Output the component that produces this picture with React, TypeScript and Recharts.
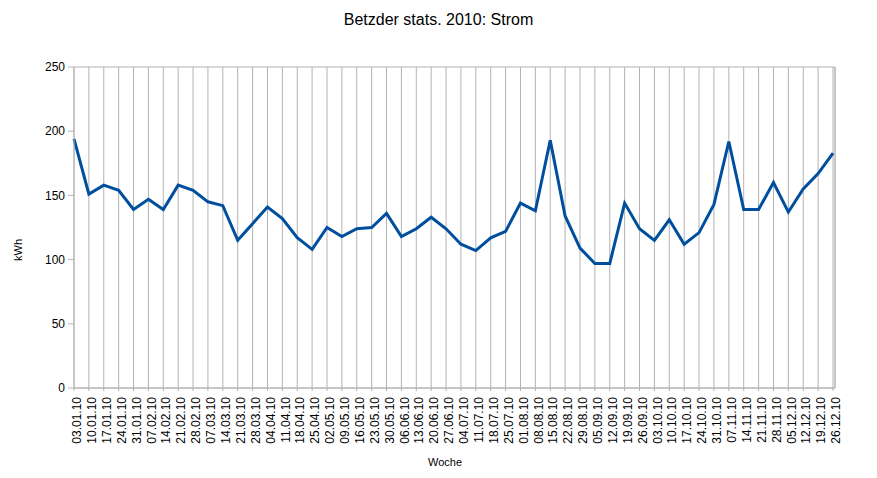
import React from 'react';
import { LineChart, Line, XAxis, YAxis, CartesianGrid } from 'recharts';

const weeks: string[] = [
  '03.01.10', '10.01.10', '17.01.10', '24.01.10', '31.01.10', '07.02.10', '14.02.10', '21.02.10', '28.02.10',
  '07.03.10', '14.03.10', '21.03.10', '28.03.10', '04.04.10', '11.04.10', '18.04.10', '25.04.10', '02.05.10',
  '09.05.10', '16.05.10', '23.05.10', '30.05.10', '06.06.10', '13.06.10', '20.06.10', '27.06.10', '04.07.10',
  '11.07.10', '18.07.10', '25.07.10', '01.08.10', '08.08.10', '15.08.10', '22.08.10', '29.08.10', '05.09.10',
  '12.09.10', '19.09.10', '26.09.10', '03.10.10', '10.10.10', '17.10.10', '24.10.10', '31.10.10', '07.11.10',
  '14.11.10', '21.11.10', '28.11.10', '05.12.10', '12.12.10', '19.12.10', '26.12.10',
];

const strom: number[] = [
  194, 151, 158, 154, 139, 147, 139, 158, 154,
  145, 142, 115, 128, 141, 132, 117, 108, 125,
  118, 124, 125, 136, 118, 124, 133, 124, 112,
  107, 117, 122, 144, 138, 193, 134, 109, 97,
  97, 144, 124, 115, 131, 112, 121, 143, 192,
  139, 139, 160, 137, 155, 167, 183,
];

const yTicks: number[] = [0, 50, 100, 150, 200, 250];

const data = weeks.map((w, i) => ({ week: w, kwh: strom[i] }));

const FONT = '"Liberation Sans", Arial, Helvetica, sans-serif';
const GRID = '#b3b3b3';

const XTick = (props: any) => {
  const { x, y, payload } = props;
  return (
    <g transform={`translate(${x},${y})`}>
      <text
        transform="rotate(-90)"
        x={-4}
        y={3}
        dy="0.35em"
        textAnchor="end"
        fontSize={12}
        fontFamily={FONT}
        fill="#000"
      >
        {payload.value}
      </text>
    </g>
  );
};

export default function App() {
  return (
    <div style={{ position: 'absolute', left: 0, top: 0, width: 877, height: 478, background: '#fff', fontFamily: FONT }}>
      <div
        style={{
          position: 'absolute',
          left: 0,
          width: 877,
          top: 10,
          textAlign: 'center',
          fontSize: 16,
          lineHeight: '20px',
          color: '#000',
        }}
      >
        Betzder stats. 2010: Strom
      </div>
      <div
        style={{
          position: 'absolute',
          left: 18,
          top: 250,
          transform: 'translate(-50%, -50%) rotate(-90deg)',
          fontSize: 11,
          lineHeight: '13px',
          color: '#000',
          whiteSpace: 'nowrap',
        }}
      >
        kWh
      </div>
      <div
        style={{
          position: 'absolute',
          left: 445,
          top: 462,
          transform: 'translate(-50%, -50%)',
          fontSize: 11,
          lineHeight: '13px',
          color: '#000',
          whiteSpace: 'nowrap',
        }}
      >
        Woche
      </div>
      <LineChart
        width={877}
        height={478}
        data={data}
        margin={{ top: 67, right: 41, left: 14, bottom: 30 }}
      >
        <CartesianGrid stroke={GRID} strokeWidth={1} vertical={true} horizontal={true} />
        <XAxis
          dataKey="week"
          interval={0}
          height={60}
          tick={<XTick />}
          tickLine={{ stroke: GRID }}
          tickSize={3}
          axisLine={{ stroke: GRID }}
          padding={{ left: 0, right: 2 }}
        />
        <YAxis
          yAxisId="left"
          domain={[0, 250]}
          ticks={yTicks}
          width={60}
          tickSize={6}
          tickMargin={3}
          tickLine={{ stroke: GRID }}
          axisLine={{ stroke: GRID }}
          tick={{ fontSize: 12, fontFamily: FONT, fill: '#000' }}
        />
        <YAxis
          yAxisId="right"
          orientation="right"
          domain={[0, 250]}
          width={1}
          tick={false}
          tickLine={false}
          axisLine={{ stroke: GRID }}
        />
        <Line
          yAxisId="left"
          type="linear"
          dataKey="kwh"
          stroke="#004f9e"
          strokeWidth={3}
          dot={false}
          isAnimationActive={false}
        />
      </LineChart>
    </div>
  );
}
